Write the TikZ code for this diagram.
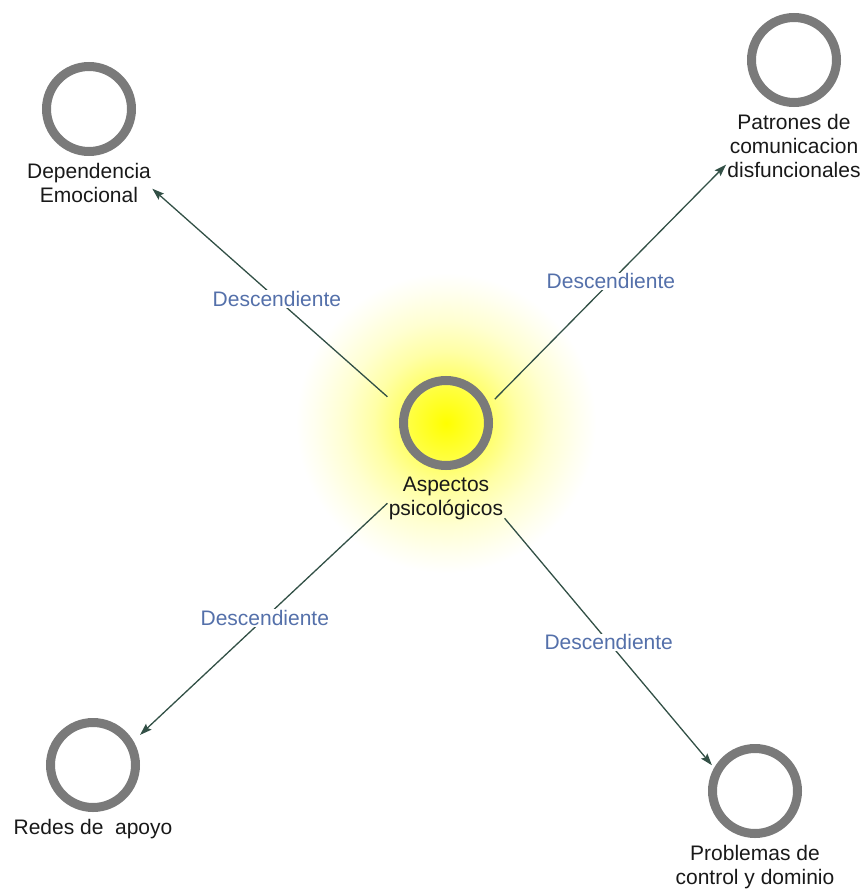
\documentclass[tikz,border=0pt]{standalone}
\usepackage{fontspec}
\setmainfont{Liberation Sans}
\usepackage{xcolor}
\usepackage{tikz}
\usetikzlibrary{arrows.meta,positioning,fit}
\definecolor{ringgray}{RGB}{122,122,122}
\definecolor{edgegreen}{RGB}{50,80,70}
\definecolor{relblue}{RGB}{84,112,170}
\pgfdeclareradialshading{glow}{\pgfpointorigin}{color(0bp)=(yellow); color(6bp)=(yellow!75!white); color(8bp)=(yellow!55!white); color(12bp)=(yellow!35!white); color(17bp)=(yellow!18!white); color(22bp)=(yellow!6!white); color(25bp)=(white); color(50bp)=(white)}

\begin{document}
\begin{tikzpicture}[x=1pt, y=1pt, node distance=6pt]
    \tikzstyle{ring}=[circle, draw=ringgray, line width=9pt, minimum size=85pt, inner sep=0pt]
    \tikzstyle{lbl}=[align=center, inner sep=1pt, text=black!90, font=\fontsize{21}{24}\selectfont]
    \tikzstyle{grp}=[inner sep=0pt]
    \tikzstyle{rel}=[fill=white, inner sep=1pt, text=relblue, font=\fontsize{21}{24}\selectfont]
    \tikzstyle{edge}=[draw=edgegreen, line width=1.3pt, -{Stealth[length=12pt, width=8pt, inset=2pt]}]
    \useasboundingbox (0,0) rectangle (864,-891);
    % glow round the central code
    \coordinate (o) at (446,-423);
    \shade[shading=glow] (o) circle (150pt);
    % codes
    \node[ring] (cen) at (o) {};
    \node[lbl, below=of cen] (cen-l) {Aspectos\\psicológicos};
    \node[ring] (dep) at (89,-109) {};
    \node[lbl, below=of dep] (dep-l) {Dependencia\\Emocional};
    \node[ring] (pat) at (794,-60) {};
    \node[lbl, below=of pat] (pat-l) {Patrones de\\comunicacion\\disfuncionales};
    \node[ring] (red) at (93,-765) {};
    \node[lbl, below=of red] (red-l) {Redes de~ apoyo};
    \node[ring] (pro) at (755,-791) {};
    \node[lbl, below=of pro] (pro-l) {Problemas de\\control y dominio};
    % code + label groups
    \node[grp, fit=(cen)(cen-l)] (cen-g) {};
    \node[grp, fit=(dep)(dep-l)] (dep-g) {};
    \node[grp, fit=(pat)(pat-l)] (pat-g) {};
    \node[grp, fit=(red)(red-l)] (red-g) {};
    \node[grp, fit=(pro)(pro-l)] (pro-g) {};
    % relations
    \draw[edge] (cen-g) -- node[rel, pos=0.47] {Descendiente} (dep-g);
    \draw[edge, shorten <=-14pt] (cen-g) -- node[rel, pos=0.48] {Descendiente} (pat-g);
    \draw[edge, shorten >=-25pt] (cen-g) -- node[rel, pos=0.535] {Descendiente} (red-g);
    \draw[edge, shorten >=-28pt] (cen-g) -- node[rel, pos=0.55] {Descendiente} (pro-g);
\end{tikzpicture}
\end{document}
